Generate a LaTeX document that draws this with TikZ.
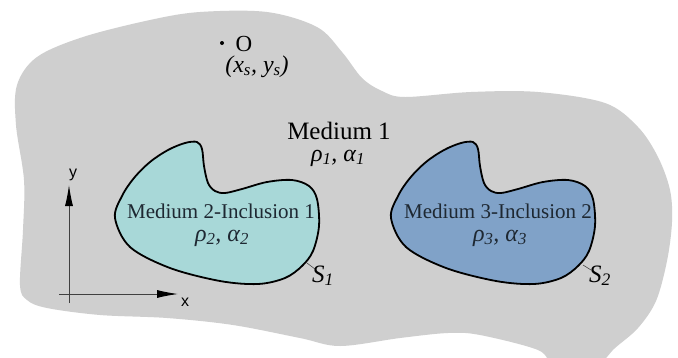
\documentclass[tikz,border=0pt]{standalone}
\usepackage{fontspec}
\setmainfont{Liberation Serif}
\newfontfamily\axfont{Liberation Sans}
\usetikzlibrary{arrows.meta}
\definecolor{bgray}{RGB}{207,207,207}
\definecolor{incA}{RGB}{168,216,216}
\definecolor{incB}{RGB}{128,162,200}
\definecolor{txtc}{RGB}{30,40,50}
\tikzset{
  inclpic/.pic={
    \path[pic actions] plot[smooth cycle,tension=0.55] coordinates {
      (115,218) (122,196) (134,178) (150,162) (168,150) (185,143) (197,142)
      (202,149) (204,166) (208,183) (215,191) (225,193) (242,189) (267,182)
      (292,180) (309,186) (317,199) (319,226) (313,251) (302,266) (285,278)
      (258,284) (220,281) (170,268) (130,247)};
  }
}
\begin{document}
\begin{tikzpicture}[x=1pt,y=-1pt,
  incl/.style={draw=black,line width=1.8pt,line join=round},
  axisline/.style={draw=black!75,line width=0.9pt,-{Latex[length=21pt,width=8pt,black]}},
  leader/.style={draw=black!70,line width=0.6pt},
  bigtxt/.style={font=\fontsize{25}{28}\selectfont},
  labtxt/.style={font=\fontsize{21}{24}\selectfont,text=txtc},
  grk/.style={font=\fontsize{24}{26}\selectfont\itshape},
  stxt/.style={font=\fontsize{25}{26}\selectfont\itshape},
  axlab/.style={font=\axfont\fontsize{16}{18}\selectfont}]
\useasboundingbox (0,0) rectangle (678,357);
\clip (0,0) rectangle (678,357);
\fill[white] (0,0) rectangle (678,357);
% medium 1
\fill[bgray] plot[smooth cycle,tension=0.55] coordinates {
  (17,85) (37,57) (83,37) (150,20) (200,12) (267,12) (317,27) (342,52)
  (362,78) (382,91) (405,97) (471,92) (538,92) (605,103) (638,127)
  (658,157) (670,190) (672,222) (667,261) (656,301) (638,328) (615,348)
  (595,366) (555,366) (538,350) (480,335) (448,333) (400,338) (340,346)
  (300,338) (233,325) (167,318) (100,315) (47,308) (27,300) (20,285)
  (23,230) (24,180) (16,125)};
% inclusions
\pic[incl,fill=incA] (inc1) at (0,0) {inclpic};
\pic[incl,fill=incB] (inc2) at (276,0) {inclpic};
% source point
\node[circle,fill=black,inner sep=0pt,minimum size=4pt] (odot) at (222,43) {};
\node[font=\fontsize{23}{24}\selectfont,anchor=base west] (olab) at (232,51) {O};
\node[font=\fontsize{24}{26}\selectfont\itshape,anchor=base] (xsys) at (257,72) {(x\textsubscript{s}, y\textsubscript{s})};
% labels
\node[bigtxt,anchor=base] (m1) at (339,139) {Medium 1};
\node[grk,anchor=base] (g1) at (338,161) {ρ\textsubscript{1}, α\textsubscript{1}};
\node[labtxt,anchor=base] (m2) at (221,218) {Medium 2-Inclusion 1};
\node[grk,anchor=base,text=txtc] (g2) at (222,241) {ρ\textsubscript{2}, α\textsubscript{2}};
\node[labtxt,anchor=base] (m3) at (498,218) {Medium 3-Inclusion 2};
\node[grk,anchor=base,text=txtc] (g3) at (500,241) {ρ\textsubscript{3}, α\textsubscript{3}};
% boundary labels
\coordinate (s1a) at (307,263);
\coordinate (s1b) at (315,269);
\draw[leader] (s1a) -- (s1b);
\node[stxt,anchor=base west,inner sep=0pt] (s1) at (312,282) {S\textsubscript{1}};
\coordinate (s2a) at (583,265);
\coordinate (s2b) at (591,270);
\draw[leader] (s2a) -- (s2b);
\node[stxt,anchor=base west,inner sep=0pt] (s2) at (589,282) {S\textsubscript{2}};
% axes
\coordinate (yb) at (69,303);
\coordinate (yt) at (69,185);
\coordinate (xl) at (59,294);
\coordinate (xr) at (178,294);
\draw[axisline] (yb) -- (yt);
\draw[axisline] (xl) -- (xr);
\node[axlab] (ylab) at (73,175) {y};
\node[axlab] (xlab) at (185,302) {x};
\end{tikzpicture}
\end{document}
